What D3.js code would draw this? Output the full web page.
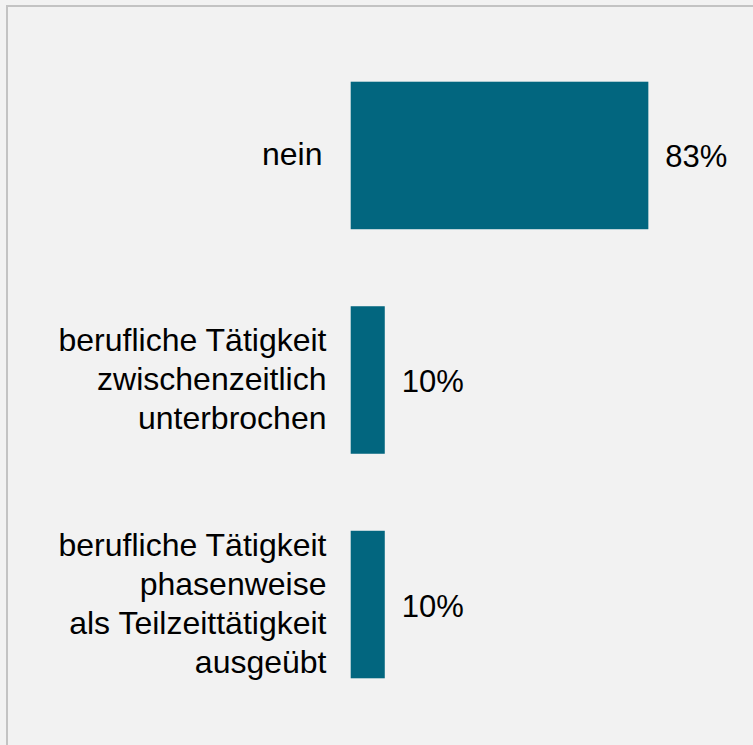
<!DOCTYPE html>
<html>
<head>
<meta charset="utf-8">
<script src="https://cdn.jsdelivr.net/npm/d3@7"></script>
<style>
  html, body { margin: 0; padding: 0; background: #f2f2f2; }
  svg { display: block; }
</style>
</head>
<body>
<div id="chart"></div>
<script>
// categories (line-broken labels) and values in percent
const categories = ["nein", "zwischenzeitlich", "teilzeit"];
const categoryLines = [
    ["nein"],
    ["berufliche Tätigkeit", "zwischenzeitlich", "unterbrochen"],
    ["berufliche Tätigkeit", "phasenweise", "als Teilzeittätigkeit", "ausgeübt"]
];
const values = [83, 9.5, 9.5];

const width = 753, height = 745;
const barColor = "#02667f";
const labelSize = 32, valueSize = 31, lineHeight = 38.8;

const svg = d3.select("#chart").append("svg")
    .attr("width", width)
    .attr("height", height)
    .style("font-family", "'Liberation Sans', Arial, sans-serif");

svg.append("rect")
    .attr("width", width).attr("height", height)
    .attr("fill", "#f2f2f2");

// frame (only top/left edges fall inside the picture)
svg.append("rect")
    .attr("x", 7).attr("y", 6)
    .attr("width", width + 20).attr("height", height + 20)
    .attr("fill", "none")
    .attr("stroke", "#c3c3c3")
    .attr("stroke-width", 2);

const x = d3.scaleLinear()
    .domain([0, 100])
    .range([350.7, 350.7 + 358.6]);

const y = d3.scaleBand()
    .domain(categories)
    .range([43.2, 716.8])
    .paddingInner(0.343)
    .paddingOuter(0.1715);

const rows = svg.selectAll("g.row")
    .data(categories.map((c, i) => ({cat: c, lines: categoryLines[i], value: values[i]})))
    .enter().append("g")
    .attr("class", "row");

rows.append("rect")
    .attr("x", x(0))
    .attr("y", d => y(d.cat))
    .attr("width", d => x(d.value) - x(0))
    .attr("height", y.bandwidth())
    .attr("fill", barColor);

rows.append("text")
    .attr("x", d => x(d.value) + 17)
    .attr("y", d => y(d.cat) + y.bandwidth() / 2 + 12)
    .attr("font-size", valueSize)
    .attr("fill", "#000")
    .text(d => Math.round(d.value) + "%");

// category labels, right aligned left of bars
rows.append("text")
    .attr("text-anchor", "end")
    .attr("font-size", labelSize)
    .attr("fill", "#000")
    .each(function(d) {
        const cy = y(d.cat) + y.bandwidth() / 2;
        const first = cy + 10 - (d.lines.length - 1) / 2 * lineHeight;
        d3.select(this).selectAll("tspan")
            .data(d.lines)
            .enter().append("tspan")
            .attr("x", d.lines.length === 1 ? 322.5 : 326.5)
            .attr("y", (l, i) => first + i * lineHeight)
            .text(l => l);
    });
</script>
</body>
</html>
